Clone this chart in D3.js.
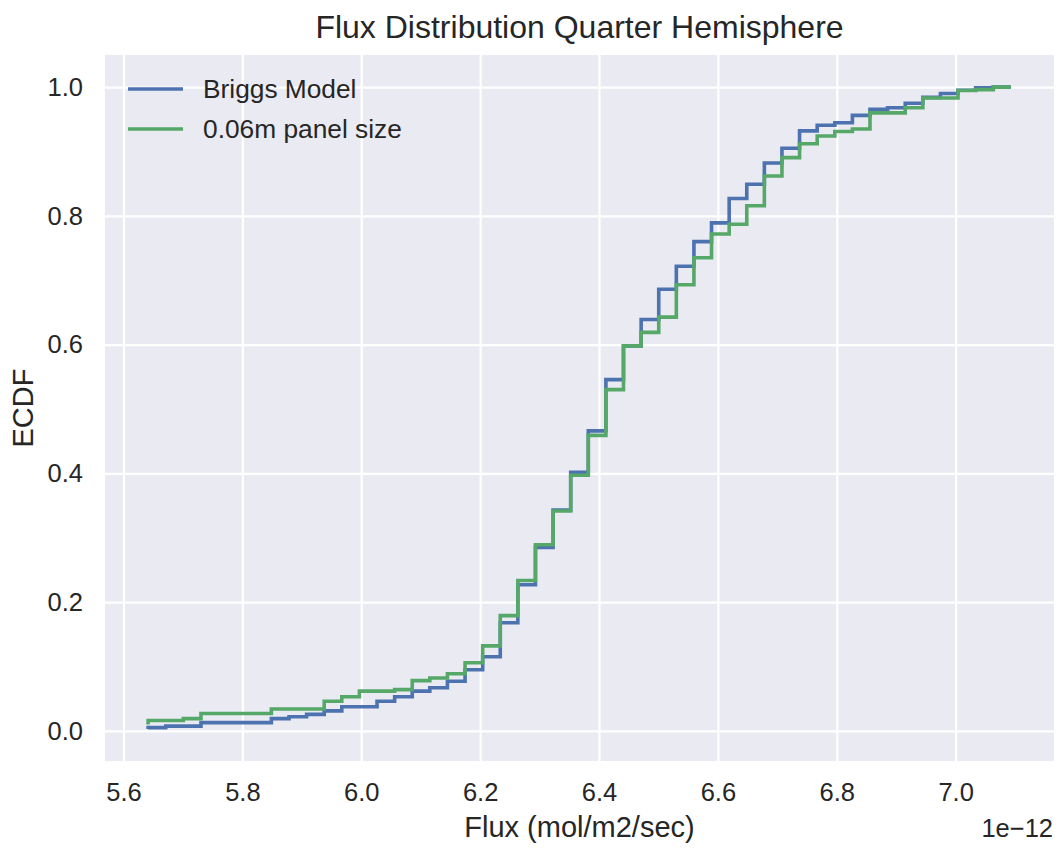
<!DOCTYPE html>
<html>
<head>
<meta charset="utf-8">
<script src="https://cdn.jsdelivr.net/npm/d3@7"></script>
<style>
  html, body { margin: 0; padding: 0; background: #ffffff; }
  svg { display: block; font-family: "Liberation Sans", Arial, sans-serif; }
</style>
</head>
<body>
<svg id="chart" width="1060" height="848"></svg>
<script>
// Flux values in units of 1e-12 mol/m2/sec (sorted sample values of the ECDF)
const flux = [5.6415, 5.6711, 5.7007, 5.7304, 5.7600, 5.7896, 5.8192, 5.8488, 5.8785, 5.9081,
              5.9377, 5.9673, 5.9969, 6.0266, 6.0562, 6.0858, 6.1154, 6.1450, 6.1747, 6.2043,
              6.2339, 6.2635, 6.2931, 6.3228, 6.3524, 6.3820, 6.4116, 6.4412, 6.4709, 6.5005,
              6.5301, 6.5597, 6.5893, 6.6190, 6.6486, 6.6782, 6.7078, 6.7374, 6.7671, 6.7967,
              6.8263, 6.8559, 6.8855, 6.9152, 6.9448, 6.9744, 7.0040, 7.0336, 7.0633, 7.0929];

// ECDF values (steps-pre: value at flux[i] holds on the interval ending at flux[i])
const briggsModel = [0.003, 0.005, 0.0074, 0.0074, 0.0127, 0.0127, 0.0127, 0.0127, 0.019, 0.022,
                     0.0256, 0.031, 0.0375, 0.0375, 0.046, 0.053, 0.0617, 0.067, 0.077, 0.095,
                     0.115, 0.168, 0.227, 0.285, 0.343, 0.4015, 0.466, 0.5456, 0.598, 0.639,
                     0.686, 0.7216, 0.76, 0.789, 0.827, 0.849, 0.882, 0.905, 0.932, 0.9407,
                     0.9447, 0.956, 0.9654, 0.968, 0.975, 0.984, 0.990, 0.995, 0.999, 1.0];

const panel006 = [0.010, 0.016, 0.016, 0.019, 0.027, 0.027, 0.027, 0.027, 0.034, 0.034,
                  0.034, 0.046, 0.053, 0.0617, 0.0617, 0.064, 0.078, 0.082, 0.0886, 0.1057,
                  0.132, 0.179, 0.2336, 0.289, 0.3416, 0.397, 0.459, 0.530, 0.598, 0.619,
                  0.6426, 0.693, 0.735, 0.7718, 0.787, 0.8157, 0.862, 0.8905, 0.912, 0.924,
                  0.931, 0.935, 0.960, 0.960, 0.968, 0.983, 0.983, 0.9946, 0.996, 1.0];

const seriesNames = ["Briggs Model", "0.06m panel size"];
const seriesColors = ["#4C72B0", "#55A868"];
const xTicks = [5.6, 5.8, 6.0, 6.2, 6.4, 6.6, 6.8, 7.0];
const yTicks = [0.0, 0.2, 0.4, 0.6, 0.8, 1.0];

const titleText = "Flux Distribution Quarter Hemisphere";
const xLabelText = "Flux (mol/m2/sec)";
const yLabelText = "ECDF";
const offsetText = "1e\u221212";

(function () {
const svg = d3.select("#chart");
const pL = 105, pR = 1054, pT = 55, pB = 761;
const textColor = "#262626";
const fontFam = "'Liberation Sans', Arial, sans-serif";

// matplotlib-style 5% margins
const allY = briggsModel.concat(panel006);
const xMin = d3.min(flux), xMax = d3.max(flux);
const yMin = d3.min(allY), yMax = d3.max(allY);
const xPad = (xMax - xMin) * 0.05, yPad = (yMax - yMin) * 0.05;

const x = d3.scaleLinear().domain([xMin - xPad, xMax + xPad]).range([pL, pR]);
const y = d3.scaleLinear().domain([yMin - yPad, yMax + yPad]).range([pB, pT]);

// background
svg.append("rect")
  .attr("x", pL).attr("y", pT)
  .attr("width", pR - pL).attr("height", pB - pT)
  .attr("fill", "#EAEAF2");

// gridlines via axes
const gx = svg.append("g")
  .attr("transform", `translate(0,${pB})`)
  .call(d3.axisBottom(x).tickValues(xTicks).tickSize(-(pB - pT)).tickFormat(d3.format(".1f")).tickPadding(22));
gx.select(".domain").remove();
gx.selectAll(".tick line").attr("stroke", "#ffffff").attr("stroke-width", 2.2);
gx.selectAll(".tick text")
  .attr("fill", textColor).attr("font-size", 25.5)
  .attr("font-family", fontFam);

const gy = svg.append("g")
  .attr("transform", `translate(${pL},0)`)
  .call(d3.axisLeft(y).tickValues(yTicks).tickSize(-(pR - pL)).tickFormat(d3.format(".1f")).tickPadding(22));
gy.select(".domain").remove();
gy.selectAll(".tick line").attr("stroke", "#ffffff").attr("stroke-width", 2.2);
gy.selectAll(".tick text")
  .attr("fill", textColor).attr("font-size", 25.5)
  .attr("font-family", fontFam);

// lines
const series = [briggsModel, panel006];
const line = d3.line()
  .x((d, i) => x(flux[i]))
  .y(d => y(d))
  .curve(d3.curveStepBefore);

series.forEach((vals, si) => {
  svg.append("path")
    .datum(vals)
    .attr("d", line)
    .attr("fill", "none")
    .attr("stroke", seriesColors[si])
    .attr("stroke-width", 3.6)
    .attr("stroke-linejoin", "miter");
});

// legend
const legend = svg.append("g");
seriesNames.forEach((name, i) => {
  const ly = 89 + i * 40;
  legend.append("line")
    .attr("x1", 128).attr("x2", 183)
    .attr("y1", ly).attr("y2", ly)
    .attr("stroke", seriesColors[i]).attr("stroke-width", 3.6);
  legend.append("text")
    .attr("x", 203).attr("y", ly)
    .attr("dominant-baseline", "central")
    .attr("font-size", 26.3).attr("fill", textColor)
    .text(name);
});

// title
svg.append("text")
  .attr("x", (pL + pR) / 2).attr("y", 38)
  .attr("text-anchor", "middle")
  .attr("font-size", 32).attr("fill", textColor)
  .text(titleText);

// x label
svg.append("text")
  .attr("x", (pL + pR) / 2).attr("y", 837)
  .attr("text-anchor", "middle")
  .attr("font-size", 29).attr("fill", textColor)
  .text(xLabelText);

// offset text
svg.append("text")
  .attr("x", 1053).attr("y", 837)
  .attr("text-anchor", "end")
  .attr("font-size", 25.5).attr("fill", textColor)
  .text(offsetText);

// y label
svg.append("text")
  .attr("transform", `translate(33,${(pT + pB) / 2}) rotate(-90)`)
  .attr("text-anchor", "middle")
  .attr("font-size", 29).attr("fill", textColor)
  .text(yLabelText);
})();
</script>
</body>
</html>
